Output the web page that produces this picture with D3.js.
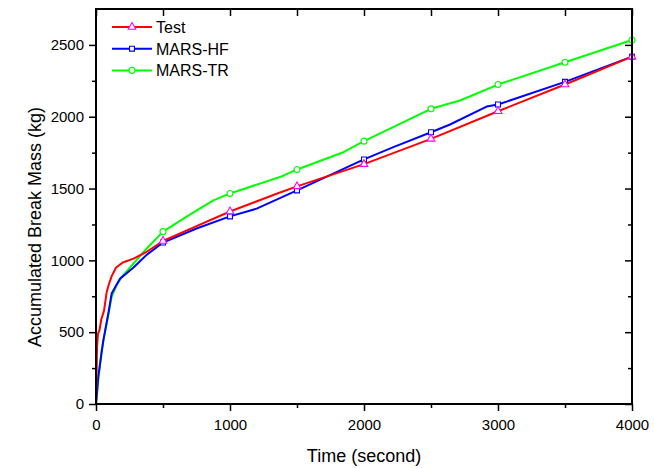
<!DOCTYPE html>
<html>
<head>
<meta charset="utf-8">
<script src="https://cdn.jsdelivr.net/npm/d3@7"></script>
<style>
body { margin: 0; background: #fff; }
text { font-family: "Liberation Sans", Arial, sans-serif; fill: #000; }
.axis path, .axis line { stroke: #000; }
</style>
</head>
<body>
<div id="chart"></div>
<script>
// chart values
var testTime = [0, 3, 8, 15, 25, 40, 60, 80, 95, 117, 150, 200, 280, 370, 500, 750, 1000, 1348, 1500, 2000, 2500, 3000, 3500, 4000];
var testMass = [0, 150, 400, 490, 510, 590, 650, 780, 830, 890, 950, 985, 1012, 1055, 1135, 1238, 1340, 1464, 1515, 1670, 1846, 2038, 2224, 2418];

var hfTime = [0, 17, 55, 92, 117, 150, 180, 280, 380, 500, 750, 1000, 1199, 1500, 2000, 2219, 2500, 2642, 2915, 3000, 3500, 4000];
var hfMass = [0, 190, 445, 630, 770, 825, 873, 950, 1040, 1124, 1222, 1306, 1360, 1487, 1703, 1788, 1892, 1946, 2071, 2085, 2243, 2418];

var trTime = [0, 5, 17, 42, 80, 117, 154, 192, 280, 366, 500, 700, 876, 1000, 1373, 1500, 1846, 2000, 2500, 2716, 3000, 3500, 4000];
var trMass = [0, 40, 167, 375, 561, 746, 827, 885, 978, 1070, 1200, 1318, 1418, 1466, 1580, 1633, 1753, 1830, 2055, 2113, 2224, 2379, 2534];

var markerTimes = [500, 1000, 1500, 2000, 2500, 3000, 3500, 4000];
var seriesNames = ["Test", "MARS-HF", "MARS-TR"];

var xMajor = [0, 1000, 2000, 3000, 4000];
var xMinor = [500, 1500, 2500, 3500];
var yMajor = [0, 500, 1000, 1500, 2000, 2500];
var yMinor = [250, 750, 1250, 1750, 2250];

var svgWidth = 654;
var svgHeight = 468;
var margin = { top: 9, right: 22, bottom: 64, left: 96 };
var width = svgWidth - margin.left - margin.right;
var height = svgHeight - margin.top - margin.bottom;

var svg = d3.select("#chart")
    .append("svg")
    .attr("width", svgWidth)
    .attr("height", svgHeight);

var chartGroup = svg.append("g")
    .attr("transform", `translate(${margin.left}, ${margin.top})`);

var xScale = d3.scaleLinear().domain([0, 4000]).range([0, width]);
var yScale = d3.scaleLinear().domain([0, 2750]).range([height, 0]);

// axes: major + minor, outward on bottom/left, inward on top/right
function styleAxis(g) {
    g.attr("class", "axis");
    g.select(".domain").remove();
    g.selectAll("line").attr("stroke-width", 1.5);
    g.selectAll("text").style("font-size", "15px");
}

chartGroup.append("g")
    .attr("transform", `translate(0, ${height})`)
    .call(d3.axisBottom(xScale).tickValues(xMajor).tickSize(7).tickPadding(8).tickFormat(d3.format("d")))
    .call(styleAxis);
chartGroup.append("g")
    .attr("transform", `translate(0, ${height})`)
    .call(d3.axisBottom(xScale).tickValues(xMinor).tickSize(4).tickFormat(""))
    .call(styleAxis);
chartGroup.append("g")
    .call(d3.axisLeft(yScale).tickValues(yMajor).tickSize(7).tickPadding(5).tickFormat(d3.format("d")))
    .call(styleAxis);
chartGroup.append("g")
    .call(d3.axisLeft(yScale).tickValues(yMinor).tickSize(4).tickFormat(""))
    .call(styleAxis);
chartGroup.append("g")
    .call(d3.axisTop(xScale).tickValues(xMajor.concat(xMinor)).tickSize(-7).tickFormat(""))
    .call(styleAxis);
chartGroup.append("g")
    .attr("transform", `translate(${width}, 0)`)
    .call(d3.axisRight(yScale).tickValues(yMajor).tickSize(-7).tickFormat(""))
    .call(styleAxis);
chartGroup.append("g")
    .attr("transform", `translate(${width}, 0)`)
    .call(d3.axisRight(yScale).tickValues(yMinor).tickSize(-4).tickFormat(""))
    .call(styleAxis);

// series table
var series = [
    { name: seriesNames[0], time: testTime, mass: testMass, color: "#ff0000", mark: "#ff00ff", symbol: d3.symbolTriangle, size: 26 },
    { name: seriesNames[1], time: hfTime, mass: hfMass, color: "#0000ff", mark: "#0000ff", symbol: d3.symbolSquare, size: 24 },
    { name: seriesNames[2], time: trTime, mass: trMass, color: "#00ff00", mark: "#00ff00", symbol: d3.symbolCircle, size: 28 }
];
series.forEach(function(s) {
    s.points = s.time.map(function(t, i) { return { t: t, m: s.mass[i] }; });
});

var line = d3.line()
    .x(d => xScale(d.t))
    .y(d => yScale(d.m));

// draw lines back to front: green, blue, red
[2, 1, 0].forEach(function(k) {
    var s = series[k];
    chartGroup.append("path")
        .datum(s.points)
        .attr("fill", "none")
        .attr("stroke", s.color)
        .attr("stroke-width", 2)
        .attr("stroke-linejoin", "round")
        .attr("d", line);
});

[2, 1, 0].forEach(function(k) {
    var s = series[k];
    chartGroup.selectAll(".mk" + k)
        .data(s.points.filter(d => markerTimes.indexOf(d.t) >= 0))
        .enter()
        .append("path")
        .attr("class", "mk" + k)
        .attr("transform", d => `translate(${xScale(d.t)}, ${yScale(d.m)})`)
        .attr("d", d3.symbol().type(s.symbol).size(s.size))
        .attr("fill", "#fff")
        .attr("stroke", s.mark)
        .attr("stroke-width", 1.1);
});

// frame
chartGroup.append("rect")
    .attr("x", 0).attr("y", 0)
    .attr("width", width).attr("height", height)
    .attr("fill", "none")
    .attr("stroke", "#000")
    .attr("stroke-width", 2);

// legend
var legend = chartGroup.append("g").attr("transform", "translate(16, 18)");
series.forEach(function(s, i) {
    var row = legend.append("g").attr("transform", `translate(0, ${i * 21.7})`);
    row.append("line")
        .attr("x1", 0).attr("x2", 40)
        .attr("y1", 0).attr("y2", 0)
        .attr("stroke", s.color)
        .attr("stroke-width", 2);
    row.append("path")
        .attr("transform", "translate(20, 0)")
        .attr("d", d3.symbol().type(s.symbol).size(s.size))
        .attr("fill", "#fff")
        .attr("stroke", s.mark)
        .attr("stroke-width", 1.1);
    row.append("text")
        .attr("x", 44)
        .attr("y", 6)
        .style("font-size", "16px")
        .text(s.name);
});

// axis titles
svg.append("text")
    .attr("x", margin.left + width / 2)
    .attr("y", 462)
    .attr("text-anchor", "middle")
    .style("font-size", "18px")
    .text("Time (second)");

svg.append("text")
    .attr("transform", "translate(41, 227) rotate(-90)")
    .attr("text-anchor", "middle")
    .style("font-size", "18px")
    .text("Accumulated Break Mass (kg)");
</script>
</body>
</html>
